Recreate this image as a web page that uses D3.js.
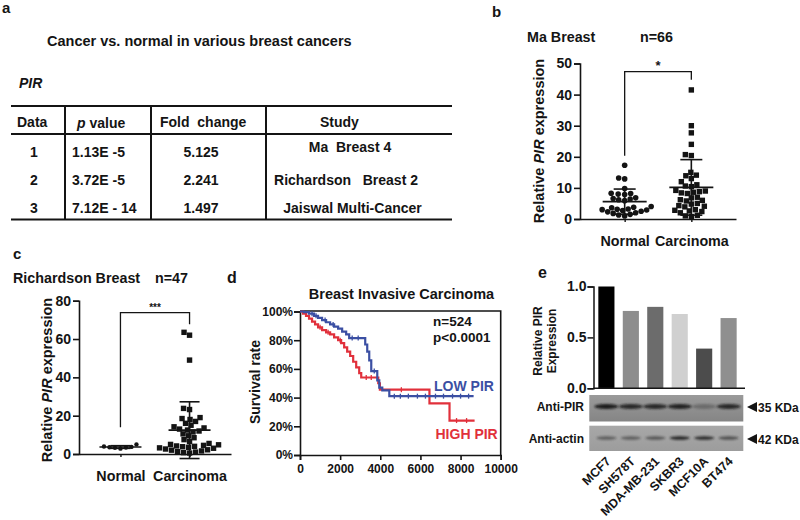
<!DOCTYPE html>
<html><head><meta charset="utf-8">
<script src="https://cdn.jsdelivr.net/npm/d3@7"></script>
<style>
body{margin:0;background:#fff;}
svg{display:block;font-family:"Liberation Sans",Arial,Helvetica,sans-serif;font-weight:bold;}
text{white-space:pre;}
</style></head><body>
<svg id="fig" width="800" height="520"></svg>
<script>
// ================= DATA =================
// Panel a – table
const tableTitle = "Cancer vs. normal in various breast cancers";
const tableGene = "PIR";
const tableDataIds = ["1", "2", "3"];
const tablePValues = ["1.13E -5", "3.72E -5", "7.12E - 14"];
const tableFoldChanges = ["5.125", "2.241", "1.497"];
const tableStudies = ["Ma  Breast 4", "Richardson   Breast 2", "Jaiswal Multi-Cancer"];

// Panels b, c – scatter dot plots
const groups = ["Normal", "Carcinoma"];
const maNormal = [17.3, 13.2, 12.9, 9.8, 8.3, 8.2, 8.0, 7.9, 6.8, 6.6, 6.4, 6.2, 5.9, 4.0, 3.8, 3.6,
  3.2, 3.1, 3.0, 2.9, 2.7, 2.5, 2.3, 2.0, 1.8, 1.5, 1.3, 1.0];
const maCarcinoma = [41.5, 30.0, 27.7, 24.0, 20.7, 20.4, 15.0, 14.1, 13.9, 13.0, 12.0, 11.0, 10.6, 10.4,
  9.2, 9.0, 8.8, 8.6, 8.4, 8.2, 7.0, 6.8, 6.2, 6.0, 5.8, 5.0, 4.8, 4.3, 4.1, 3.9, 3.0, 2.8, 2.6, 2.4,
  2.0, 1.2, 1.0, 0.8];
const maTicks = [0, 10, 20, 30, 40, 50];
const richNormal = [5.0, 3.9, 3.7, 3.5, 3.4, 3.2, 2.8];
const richCarcinoma = [63.5, 62.0, 49.0, 23.8, 23.2, 19.0, 18.5, 18.0, 17.0, 16.0, 15.0, 14.2, 13.6, 13.0,
  12.5, 12.0, 11.5, 10.5, 9.5, 8.5, 7.5, 6.5, 5.5, 5.0, 4.8, 4.5, 4.2, 4.0, 3.8, 3.5, 3.2, 3.0, 2.6,
  2.2, 2.0, 1.6, 1.2, 1.0, 0.7, 0.5];
const richTicks = [0, 20, 40, 60, 80];

// Panel d – Kaplan–Meier
const lowPirTimes = [0, 200, 450, 700, 900, 1100, 1300, 1500, 1700, 1900, 2100, 2300, 2450, 3250, 3350, 3450, 3550, 3850, 3950, 4100, 4450];
const lowPirSurv  = [1.00, 0.995, 0.985, 0.97, 0.955, 0.94, 0.925, 0.91, 0.895, 0.88, 0.86, 0.84, 0.815, 0.77, 0.72, 0.66, 0.585, 0.52, 0.47, 0.45, 0.41];
const lowPirEnd = 8650;
const lowPirCensored = [600, 800, 1250, 1650, 2600, 2900, 3700, 4700, 5000, 5400, 5850, 6250, 6750, 7150, 7600, 8000, 8400];
const highPirTimes = [0, 150, 300, 450, 600, 750, 900, 1100, 1300, 1500, 1700, 1900, 2050, 2200, 2350, 2500, 2650, 2800, 2950, 3050, 3900, 3980, 6450, 7450];
const highPirSurv  = [1.0, 0.985, 0.97, 0.95, 0.93, 0.91, 0.89, 0.87, 0.855, 0.84, 0.82, 0.80, 0.78, 0.75, 0.72, 0.69, 0.65, 0.61, 0.57, 0.54, 0.50, 0.455, 0.36, 0.24];
const highPirEnd = 8700;
const highPirCensored = [1000, 1400, 2000, 3300, 3550, 5050, 7800, 8300];
const kmXTicks = [0, 2000, 4000, 6000, 8000, 10000];
const kmYTicks = [0, 0.2, 0.4, 0.6, 0.8, 1.0];

// Panel e – bars + blots
const cellLines = ["MCF7", "SH578T", "MDA-MB-231", "SKBR3", "MCF10A", "BT474"];
const pirExpression = [1.0, 0.76, 0.80, 0.73, 0.39, 0.69];
const pirBandIntensity = [0.95, 0.85, 0.85, 0.9, 0.3, 0.85];
const actinBandIntensity = [0.45, 0.45, 0.5, 0.85, 0.8, 0.55];
const barTicks = [0, 0.5, 1.0];

// ================= DRAWING =================
const INK = "#141414";
const svg = d3.select("#fig");

function T(g, x, y, s, size, o = {}) {
  const t = g.append("text").attr("x", x).attr("y", y).attr("font-size", size)
    .attr("fill", o.fill || INK).attr("text-anchor", o.anchor || "start").text(s);
  if (o.italic) t.attr("font-style", "italic");
  if (o.transform) t.attr("transform", o.transform);
  return t;
}

// ---------- Panel labels ----------
T(svg, 2, 13, "a", 15);
T(svg, 492, 17, "b", 15);
T(svg, 13, 259, "c", 15);
T(svg, 227, 283, "d", 16);
T(svg, 538, 278, "e", 16);

// ---------- Panel a : table ----------
(function () {
  const g = svg.append("g");
  T(g, 47, 46, tableTitle, 14.5);
  T(g, 19, 88, tableGene, 14, { italic: true });
  const x0 = 11, x1 = 452, yTop = 106, yHead = 134, yBot = 219.5;
  const vx = [65, 151, 266];
  [yTop, yHead, yBot].forEach(y => g.append("line").attr("x1", x0).attr("x2", x1).attr("y1", y).attr("y2", y)
    .attr("stroke", INK).attr("stroke-width", 2));
  vx.forEach(x => g.append("line").attr("x1", x).attr("x2", x).attr("y1", yTop).attr("y2", yBot)
    .attr("stroke", INK).attr("stroke-width", 2));
  // header
  T(g, 17, 127, "Data", 14);
  const pv = T(g, 77, 128, "", 14);
  pv.append("tspan").attr("font-style", "italic").text("p");
  pv.append("tspan").text(" value");
  T(g, 160, 127, "Fold  change", 14);
  T(g, 320, 127, "Study", 14);
  const rowY = [157, 184.5, 212.5];
  const studyY = [152, 184.5, 212.5];
  const studyX = [350, 346, 352.5];
  tableDataIds.forEach((d, i) => {
    T(g, 30, rowY[i], d, 14);
    T(g, 72, rowY[i], tablePValues[i], 14);
    T(g, 201, rowY[i], tableFoldChanges[i], 14, { anchor: "middle" });
    T(g, studyX[i], studyY[i], tableStudies[i], 14, { anchor: "middle" });
  });
})();

// ---------- scatter dot plot helper ----------
function swarm(values, y, cx, d) {
  const pts = values.map(v => ({ v, y: y(v) })).sort((a, b) => b.y - a.y);
  const placed = [];
  for (const p of pts) {
    let x = cx;
    for (let k = 0; k < 400; k++) {
      const off = (k % 2 === 0 ? 1 : -1) * Math.ceil(k / 2) * 0.5;
      const cand = cx + off;
      if (placed.every(q => (q.x - cand) ** 2 + (q.y - p.y) ** 2 >= d * d)) { x = cand; break; }
    }
    p.x = x; placed.push(p);
  }
  return placed;
}

function scatterPanel(o) {
  const g = svg.append("g");
  const y = d3.scaleLinear().domain([0, o.ymax]).range(o.yRange);
  const x = d3.scalePoint().domain(groups).range(o.xRange).padding(o.pad);
  // titles
  T(g, o.titleX, o.titleY, o.title, 14.3);
  T(g, o.nX, o.titleY, o.n, 14.3);
  // y axis
  const ya = g.append("g").attr("transform", `translate(${o.xRange[0]},0)`)
    .call(d3.axisLeft(y).tickValues(o.ticks).tickSize(6).tickPadding(2).tickFormat(d3.format("d")));
  ya.select(".domain").attr("stroke", INK).attr("stroke-width", 1.6);
  ya.selectAll(".tick line").attr("stroke", INK).attr("stroke-width", 1.6);
  ya.selectAll("text").attr("font-size", 14).attr("font-weight", "bold").attr("fill", INK)
    .attr("font-family", "'Liberation Sans',Arial,sans-serif");
  // x axis
  const xa = g.append("g").attr("transform", `translate(0,${o.yRange[0]})`)
    .call(d3.axisBottom(x).tickSize(3).tickPadding(10).tickSizeOuter(0));
  xa.select(".domain").attr("stroke", INK).attr("stroke-width", 1.6);
  xa.selectAll(".tick line").attr("stroke", INK).attr("stroke-width", 1.4);
  xa.selectAll("text").attr("font-size", 14.3).attr("font-weight", "bold").attr("fill", INK)
    .attr("font-family", "'Liberation Sans',Arial,sans-serif").attr("dy", o.labelDy);
  // y label
  const yl = T(g, o.ylabX, o.ylabY, "", 14.5, { anchor: "middle", transform: `rotate(-90,${o.ylabX},${o.ylabY})` });
  yl.append("tspan").text("Relative ");
  yl.append("tspan").attr("font-style", "italic").text("PIR");
  yl.append("tspan").text(" expression");
  // points + mean/SD
  [o.normal, o.carc].forEach((vals, gi) => {
    const cx = x(groups[gi]);
    const pts = swarm(vals, y, cx, gi === 0 ? o.dN : o.dC);
    if (gi === 0 && o.normalShape === "circle") {
      g.selectAll(null).data(pts).enter().append("circle").attr("cx", p => p.x).attr("cy", p => p.y)
        .attr("r", o.rN).attr("fill", INK);
    } else {
      const s = o.sq;
      g.selectAll(null).data(pts).enter().append("rect").attr("x", p => p.x - s / 2).attr("y", p => p.y - s / 2)
        .attr("width", s).attr("height", s).attr("fill", INK);
    }
    const m = d3.mean(vals), sd = d3.deviation(vals);
    const lw = 1.6;
    g.append("line").attr("x1", cx - o.meanW).attr("x2", cx + o.meanW).attr("y1", y(m)).attr("y2", y(m))
      .attr("stroke", INK).attr("stroke-width", lw);
    g.append("line").attr("x1", cx).attr("x2", cx).attr("y1", y(m - sd)).attr("y2", y(m + sd))
      .attr("stroke", INK).attr("stroke-width", lw);
    [m - sd, m + sd].forEach(v => g.append("line").attr("x1", cx - o.capW).attr("x2", cx + o.capW)
      .attr("y1", y(v)).attr("y2", y(v)).attr("stroke", INK).attr("stroke-width", lw));
  });
  // significance bracket
  const xn = x(groups[0]), xc = x(groups[1]);
  g.append("path").attr("d", `M${xn},${y(o.br[0])}V${y(o.br[1])}H${xc}V${y(o.br[2])}`)
    .attr("fill", "none").attr("stroke", INK).attr("stroke-width", 1.3);
  T(g, (xn + xc) / 2, y(o.br[1]) - 2, o.stars, o.starSize, { anchor: "middle" });
}

// ---------- Panel b ----------
scatterPanel({
  normal: maNormal, carc: maCarcinoma, ymax: 50, yRange: [219, 63.5], xRange: [580, 736], pad: 0.67,
  ticks: maTicks, title: "Ma Breast", titleX: 527, titleY: 42, n: "n=66", nX: 640,
  ylabX: 543.5, ylabY: 141, labelDy: "0.95em",
  normalShape: "circle", rN: 2.8, dN: 5.6, dC: 5.8, sq: 5.4, meanW: 22, capW: 11,
  br: [20.3, 47.4, 44.8], stars: "*", starSize: 13
});

// ---------- Panel c ----------
scatterPanel({
  normal: richNormal, carc: richCarcinoma, ymax: 80, yRange: [454, 300.7], xRange: [79, 231], pad: 0.6,
  ticks: richTicks, title: "Richardson Breast", titleX: 13, titleY: 283, n: "n=47", nX: 155,
  ylabX: 52, ylabY: 380, labelDy: "0.95em",
  normalShape: "circle", rN: 2.2, dN: 5.2, dC: 5.8, sq: 5.4, meanW: 21, capW: 10,
  br: [14, 73.8, 67.7], stars: "***", starSize: 10
});

// ---------- Panel d : Kaplan-Meier ----------
(function () {
  const g = svg.append("g");
  const x = d3.scaleLinear().domain([0, 10000]).range([300, 500.7]);
  const y = d3.scaleLinear().domain([0, 1]).range([455, 311.5]);
  T(g, 401.5, 299, "Breast Invasive Carcinoma", 14.5, { anchor: "middle" });
  // frame
  g.append("path").attr("d", `M${x(0)},${y(1) - 0.5}H${x(10000)}V${y(0)}`).attr("fill", "none")
    .attr("stroke", INK).attr("stroke-width", 1.6);
  const ya = g.append("g").attr("transform", `translate(${x(0)},0)`)
    .call(d3.axisLeft(y).tickValues(kmYTicks).tickSize(6).tickPadding(1).tickFormat(d3.format(".0%")));
  const xa = g.append("g").attr("transform", `translate(0,${y(0)})`)
    .call(d3.axisBottom(x).tickValues(kmXTicks).tickSize(5).tickPadding(4).tickFormat(d3.format("d")));
  [ya, xa].forEach(a => {
    a.select(".domain").attr("stroke", INK).attr("stroke-width", 1.6);
    a.selectAll(".tick line").attr("stroke", INK).attr("stroke-width", 1.6);
    a.selectAll("text").attr("font-size", 12).attr("font-weight", "bold").attr("fill", INK)
      .attr("font-family", "'Liberation Sans',Arial,sans-serif");
  });
  T(g, 260, 382, "Survival rate", 14, { anchor: "middle", transform: "rotate(-90,260,382)" });

  const step = d3.line().x(d => x(d[0])).y(d => y(d[1])).curve(d3.curveStepAfter);
  function curve(times, surv, end, cens, color) {
    const pts = times.map((t, i) => [t, surv[i]]);
    pts.push([end, surv[surv.length - 1]]);
    g.append("path").attr("d", step(pts)).attr("fill", "none").attr("stroke", color).attr("stroke-width", 2.2);
    const sAt = t => { let s = surv[0]; times.forEach((tt, i) => { if (tt <= t) s = surv[i]; }); return s; };
    g.selectAll(null).data(cens).enter().append("line")
      .attr("x1", t => x(t)).attr("x2", t => x(t))
      .attr("y1", t => y(sAt(t)) - 2.5).attr("y2", t => y(sAt(t)) + 2.5)
      .attr("stroke", color).attr("stroke-width", 1.3);
  }
  const BLUE = "#3b4fa3", RED = "#e1303b";
  curve(highPirTimes, highPirSurv, highPirEnd, highPirCensored, RED);
  curve(lowPirTimes, lowPirSurv, lowPirEnd, lowPirCensored, BLUE);
  T(g, 433, 326, "n=524", 13.5);
  T(g, 433, 342, "p<0.0001", 13.5);
  T(g, 434, 390.5, "LOW PIR", 14, { fill: BLUE });
  T(g, 435.5, 438.5, "HIGH PIR", 14, { fill: RED });
})();

// ---------- Panel e : bars + western blots ----------
(function () {
  const g = svg.append("g");
  const x = d3.scaleBand().domain(cellLines).range([591, 744]).paddingInner(0.34).paddingOuter(0.3);
  const y = d3.scaleLinear().domain([0, 1]).range([388.3, 286.5]);
  const grays = ["#000000", "#8d8d8d", "#6c6c6c", "#d0d0d0", "#4c4c4c", "#8f8f8f"];
  g.selectAll(null).data(cellLines).enter().append("rect")
    .attr("x", d => x(d)).attr("width", x.bandwidth())
    .attr("y", (d, i) => y(pirExpression[i])).attr("height", (d, i) => y(0) - y(pirExpression[i]))
    .attr("fill", (d, i) => grays[i]);
  const ya = g.append("g").attr("transform", "translate(593.5,0)")
    .call(d3.axisLeft(y).tickValues(barTicks).tickSize(6).tickPadding(1).tickFormat(d3.format(".1f")));
  ya.select(".domain").attr("stroke", INK).attr("stroke-width", 1.5);
  ya.selectAll(".tick line").attr("stroke", INK).attr("stroke-width", 1.5);
  ya.selectAll("text").attr("font-size", 14).attr("font-weight", "bold").attr("fill", INK)
    .attr("font-family", "'Liberation Sans',Arial,sans-serif");
  g.append("line").attr("x1", 593.5).attr("x2", 745).attr("y1", y(0)).attr("y2", y(0))
    .attr("stroke", INK).attr("stroke-width", 1.5);
  T(g, 541.7, 341, "Relative PIR", 12, { anchor: "middle", transform: "rotate(-90,541.7,341)" });
  T(g, 555.5, 341, "Expression", 12, { anchor: "middle", transform: "rotate(-90,555.5,341)" });

  // blots
  const defs = svg.append("defs");
  defs.append("filter").attr("id", "blur").attr("x", "-30%").attr("y", "-200%").attr("width", "160%").attr("height", "500%")
    .append("feGaussianBlur").attr("stdDeviation", 0.9);
  const grad = defs.append("linearGradient").attr("id", "blotg").attr("x1", 0).attr("x2", 0).attr("y1", 0).attr("y2", 1);
  grad.append("stop").attr("offset", 0).attr("stop-color", "#9a9a9a");
  grad.append("stop").attr("offset", 1).attr("stop-color", "#858585");
  const grad2 = defs.append("linearGradient").attr("id", "blotg2").attr("x1", 0).attr("x2", 0).attr("y1", 0).attr("y2", 1);
  grad2.append("stop").attr("offset", 0).attr("stop-color", "#a8a8a8");
  grad2.append("stop").attr("offset", 1).attr("stop-color", "#9c9c9c");

  const blots = [
    { y0: 395, y1: 421.5, by: 406.5, ry: 2.4, rx: 12, fill: "url(#blotg)", inten: pirBandIntensity, label: "Anti-PIR", kda: "35 KDa", ty: 407 },
    { y0: 425.7, y1: 451, by: 438, ry: 1.7, rx: 10, fill: "url(#blotg2)", inten: actinBandIntensity, label: "Anti-actin", kda: "42 KDa", ty: 439 }
  ];
  blots.forEach(b => {
    g.append("rect").attr("x", 589.3).attr("y", b.y0).attr("width", 154).attr("height", b.y1 - b.y0).attr("fill", b.fill);
    g.selectAll(null).data(cellLines).enter().append("ellipse")
      .attr("cx", d => x(d) + x.bandwidth() / 2).attr("cy", b.by)
      .attr("rx", b.rx).attr("ry", b.ry).attr("fill", "#161616")
      .attr("opacity", (d, i) => b.inten[i]).attr("filter", "url(#blur)");
    T(g, 584, b.ty + 4.3, b.label, 12, { anchor: "end" });
    g.append("path").attr("d", `M747,${b.ty}L757,${b.ty - 5}V${b.ty + 5}Z`).attr("fill", INK);
    T(g, 758, b.ty + 4.5, b.kda, 12);
  });

  // cell-line labels
  g.selectAll(null).data(cellLines).enter().append("text")
    .attr("transform", d => `translate(${x(d) + x.bandwidth() / 2 + 5},462) rotate(-45)`)
    .attr("text-anchor", "end").attr("font-size", 12.5).attr("fill", INK).text(d => d);
})();
</script>
</body></html>
